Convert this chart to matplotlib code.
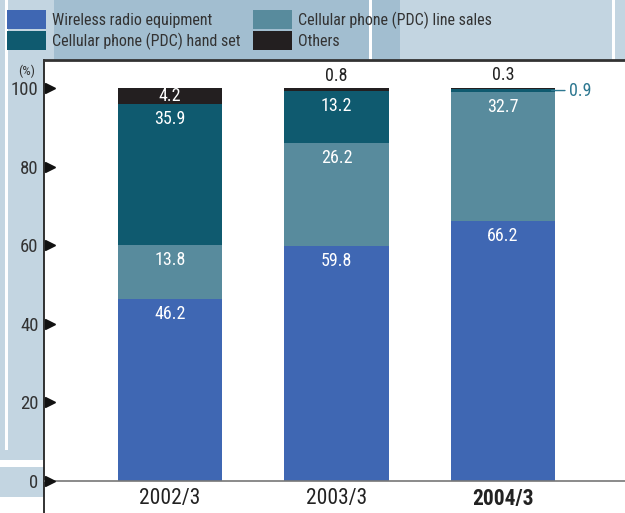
import matplotlib
matplotlib.use("Agg")
import matplotlib.pyplot as plt
from matplotlib.patches import Rectangle
from matplotlib import font_manager
import matplotlib.transforms as mtransforms

# ---------------- data ----------------
years = ["2002/3", "2003/3", "2004/3"]
series_names = ["Wireless radio equipment", "Cellular phone (PDC) line sales",
                "Cellular phone (PDC) hand set", "Others"]
wireless = [46.2, 59.8, 66.2]
line_sales = [13.8, 26.2, 32.7]
hand_set = [35.9, 13.2, 0.9]
others = [4.2, 0.8, 0.3]
yticks = [0, 20, 40, 60, 80, 100]

colors = ["#3f67b3", "#588b9d", "#0f5a6f", "#231f20"]

# ---------------- fonts ----------------
avail = {f.name for f in font_manager.fontManager.ttflist}
fam = [f for f in ["Liberation Sans Narrow", "Roboto Condensed", "Liberation Sans"] if f in avail]
plt.rcParams["font.family"] = fam + ["DejaVu Sans"]

W, H = 625, 513
fig = plt.figure(figsize=(W / 100, H / 100), dpi=100)


def frect(x0, y0, x1, y1, color):
    """rectangle in figure pixel coords (y measured from top)"""
    fig.patches.append(Rectangle((x0 / W, 1 - y1 / H), (x1 - x0) / W, (y1 - y0) / H,
                                 transform=fig.transFigure, color=color, lw=0,
                                 zorder=0))


light = "#c3d5e1"
dark = "#a2bed0"
# background panels
frect(0, 0, 625, 60, light)
frect(54, 0, 400, 60, dark)
frect(369, 0, 371.5, 60, "white")
frect(612, 0, 614.5, 60, "white")
frect(0, 60, 44, 460, light)
frect(5, 0, 7.5, 450, "white")
frect(0, 467, 44, 497, light)

# ---------------- axes ----------------
ax = fig.add_axes([44 / W, 0, 1 - 44 / W, 1 - 60 / H])
ax.set_facecolor("white")
ax.set_zorder(1)
ax.set_ylim(-8.14, 107.12)
ax.set_xlim(-0.757, 2.733)

x = list(range(len(years)))
width = 0.625
stack = [wireless, line_sales, hand_set, others]
bottoms = [0.0] * len(years)
bars_tops = []
for vals, c in zip(stack, colors):
    ax.bar(x, vals, width=width, bottom=bottoms, color=c, lw=0, zorder=2)
    bottoms = [b + v for b, v in zip(bottoms, vals)]
    bars_tops.append(list(bottoms))

ax.axhline(0, color="#777777", lw=1.2, zorder=3)

for s in ["right", "bottom"]:
    ax.spines[s].set_visible(False)
ax.spines["top"].set_color("#333333")
ax.spines["top"].set_linewidth(2.0)
ax.spines["left"].set_color("#222222")
ax.spines["left"].set_linewidth(1.3)

ax.set_yticks(yticks)
ax.set_yticklabels([str(t) for t in yticks], fontsize=13.5, color="#333333")
ax.tick_params(axis="y", length=0, pad=4)
ax.set_xticks([])

# category labels just below the zero line
for i, yr in enumerate(years):
    ax.annotate(yr, (x[i], 0), xytext=(0, -5), textcoords="offset points",
                ha="center", va="top", fontsize=15.5, color="#222222",
                fontweight="bold" if i == len(years) - 1 else "normal",
                annotation_clip=False, zorder=4)

# triangle tick markers
tri_tr = mtransforms.offset_copy(ax.get_yaxis_transform(), fig=fig, x=4.0, units="points")
ax.plot([0] * len(yticks), yticks, ls="none", marker=">", markersize=7.5,
        color="#111111", transform=tri_tr, clip_on=False, zorder=5)

fig.text(27 / W, 1 - 71 / H, "(%)", fontsize=9.5, color="#333333",
         ha="center", va="center")

# ---------------- value labels ----------------
for i in range(len(years)):
    for k, vals in enumerate(stack):
        v = vals[i]
        top = bars_tops[k][i]
        if v >= 10:
            ax.annotate(f"{v}", (x[i], top), xytext=(0, -4.3), textcoords="offset points",
                        ha="center", va="top", color="white", fontsize=13, zorder=4)
        elif v >= 3:
            ax.annotate(f"{v}", (x[i], top - v / 2), ha="center", va="center",
                        color="white", fontsize=13, zorder=4)
        elif k == len(stack) - 1:
            ax.annotate(f"{v}", (x[i], top), xytext=(0, 2.5), textcoords="offset points",
                        ha="center", va="bottom", color="#222222", fontsize=13, zorder=4)
        else:
            ymid = top - v / 2
            ax.annotate(f"{v}", xy=(x[i] + width / 2 - 0.02, ymid),
                        xytext=(x[i] + width / 2 + 0.085, ymid),
                        ha="left", va="center", color="#2e7891", fontsize=13,
                        arrowprops=dict(arrowstyle="-", color="#2e7891", lw=1.0,
                                        shrinkA=1, shrinkB=0),
                        annotation_clip=False, zorder=4)

# ---------------- legend ----------------
leg_pos = [(7, 10), (253, 10), (7, 31), (253, 31)]
leg_order = [0, 1, 2, 3]
for (lx, ly), k in zip(leg_pos, leg_order):
    frect(lx, ly, lx + 39, ly + 18.5, colors[k])
    fig.text((lx + 45) / W, 1 - (ly + 10) / H, series_names[k], fontsize=11.5,
             color="#333333", ha="left", va="center")

fig.savefig("out.png", dpi=100)
